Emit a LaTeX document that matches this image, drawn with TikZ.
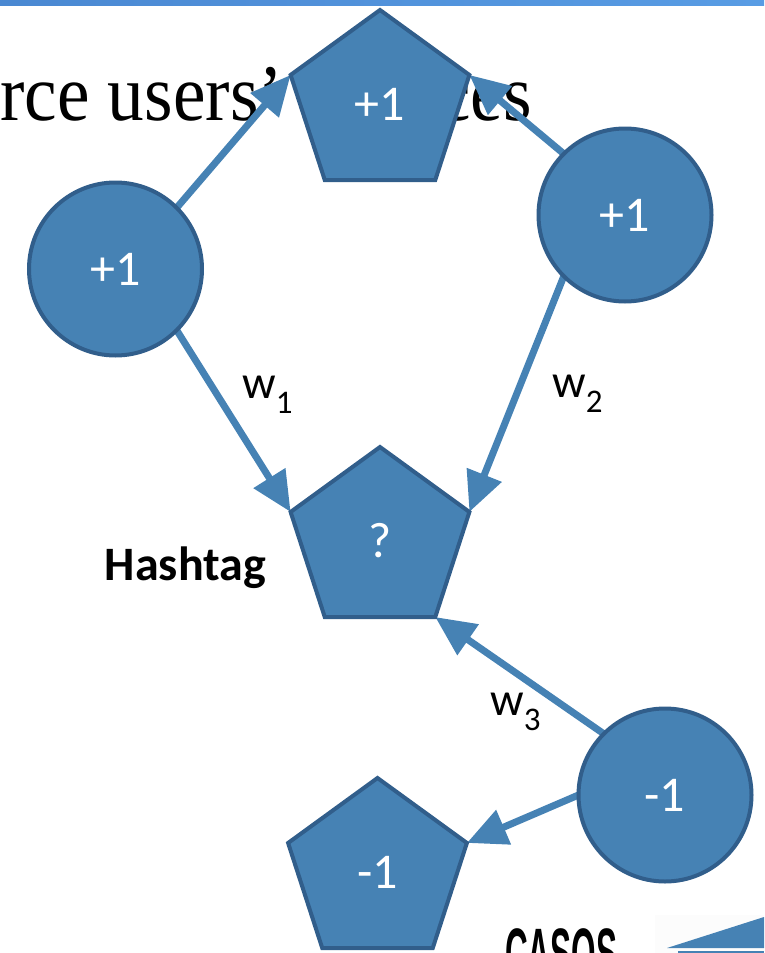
\documentclass[tikz,border=0pt]{standalone}
\usepackage{fontspec}
\usetikzlibrary{shapes.geometric,arrows.meta}
\newfontfamily\carlito{Carlito}
\newfontfamily\slideserif{Liberation Serif}
\newfontfamily\logofont{Liberation Sans}
\definecolor{nodefill}{RGB}{70,130,180}
\definecolor{nodeedge}{RGB}{49,94,139}
\definecolor{barleft}{RGB}{74,136,210}
\definecolor{barright}{RGB}{88,156,228}
\pgfdeclarelayer{back}
\pgfdeclarelayer{links}
\pgfsetlayers{back,links,main}
\begin{document}
\begin{tikzpicture}[x=1pt,y=-1pt,
  agent/.style={circle, draw=nodeedge, fill=nodefill, line width=4pt,
    minimum size=173pt, inner sep=0pt, outer sep=0pt, text=white,
    font=\carlito\fontsize{50}{50}\selectfont},
  tag/.style={regular polygon, regular polygon sides=5, draw=nodeedge,
    fill=nodefill, line width=4pt, minimum size=188pt, inner sep=0pt,
    outer sep=0pt, text=white, font=\carlito\fontsize{50}{50}\selectfont},
  link/.style={draw=nodefill, line width=7pt,
    -{Triangle[length=40pt,width=36pt]}},
  weight/.style={anchor=base west, inner sep=0pt,
    font=\carlito\fontsize{47}{47}\selectfont},
  heading/.style={inner sep=0pt, xscale=0.916,
    font=\slideserif\fontsize{80}{80}\selectfont}]
\useasboundingbox (0,0) rectangle (764,953);
\clip (0,0) rectangle (764,953);

\begin{pgfonlayer}{back}
  % slide title bar and title line
  \shade[left color=barleft, right color=barright] (0,0) rectangle (764,5);
  \node[heading, anchor=base west] (titleL) at (0,120) {rce users’ s};
  \node[heading, anchor=base east] (titleR) at (532,120) {ces};
  % logo corner
  \fill[gray!2] (655,915) rectangle (764,953);
  \fill[nodefill] (667,948) -- (764,917) -- (764,948) -- cycle;
  \fill[nodefill] (678,951) rectangle (764,953);
  \node[anchor=base west, inner sep=0pt, xscale=0.45,
    font=\logofont\bfseries\fontsize{70}{70}\selectfont] (logo) at (505,977) {CASOS};
\end{pgfonlayer}

% hashtags
\node[tag] (pT) at (380,104) {+1};
\node[tag] (pM) at (380,541) {?};
\node[tag] (pB) at (377.5,872) {-1};

% users
\node[agent] (cL) at (115.5,269) {+1};
\node[agent] (cR) at (625,215) {+1};
\node[agent] (cB) at (665,795) {-1};

\node[anchor=base, inner sep=0pt,
  font=\carlito\bfseries\fontsize{48}{48}\selectfont] (lbl) at (185.5,580) {Hashtag};

% weights
\node[weight] (w1) at (242,398) {w\raisebox{-15pt}{\fontsize{33}{33}\selectfont 1}};
\node[weight] (w2) at (552,397) {w\raisebox{-15pt}{\fontsize{33}{33}\selectfont 2}};
\node[weight] (w3) at (490,715) {w\raisebox{-15pt}{\fontsize{33}{33}\selectfont 3}};

\begin{pgfonlayer}{links}
  \draw[link] (cL.north east) -- (pT.corner 2);
  \draw[link] (cR.north west) -- (pT.corner 5);
  \draw[link] (cL.south east) -- (pM.corner 2);
  \draw[link] (cR.south west) -- (pM.corner 5);
  \draw[link] (cB.north west) -- (pM.corner 4);
  \draw[link] (cB.west) -- (pB.corner 5);
\end{pgfonlayer}
\end{tikzpicture}
\end{document}
